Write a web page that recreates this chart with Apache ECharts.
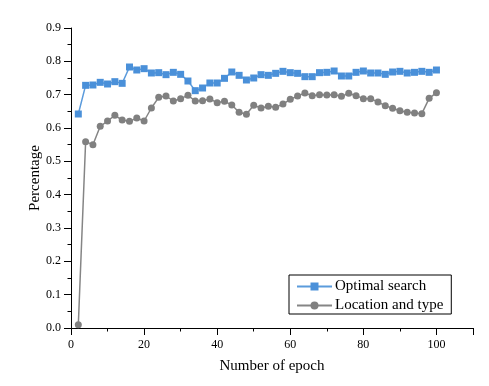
<!DOCTYPE html>
<html>
<head>
<meta charset="utf-8">
<script src="https://cdn.jsdelivr.net/npm/echarts@6/dist/echarts.min.js"></script>
<style>
  html, body { margin: 0; padding: 0; background: #fff; }
  #main { width: 489px; height: 386px; }
</style>
</head>
<body>
<div id="main"></div>
<script>
// epochs (every 2nd one)
var epochs = [2, 4, 6, 8, 10, 12, 14, 16, 18, 20, 22, 24, 26, 28, 30, 32, 34, 36, 38, 40,
  42, 44, 46, 48, 50, 52, 54, 56, 58, 60, 62, 64, 66, 68, 70, 72, 74, 76, 78, 80,
  82, 84, 86, 88, 90, 92, 94, 96, 98, 100];

var optimalSearch = [0.642, 0.728, 0.729, 0.737, 0.732, 0.739, 0.734, 0.783, 0.774, 0.778,
  0.765, 0.766, 0.760, 0.767, 0.761, 0.741, 0.712, 0.720, 0.735, 0.735,
  0.749, 0.768, 0.758, 0.744, 0.750, 0.760, 0.758, 0.764, 0.770, 0.766,
  0.764, 0.754, 0.754, 0.766, 0.767, 0.771, 0.756, 0.756, 0.767, 0.771,
  0.765, 0.765, 0.761, 0.768, 0.770, 0.765, 0.767, 0.770, 0.767, 0.774];

var locationAndType = [0.010, 0.559, 0.550, 0.605, 0.621, 0.638, 0.624, 0.620, 0.630, 0.621,
  0.660, 0.692, 0.696, 0.681, 0.688, 0.698, 0.681, 0.682, 0.687, 0.676,
  0.680, 0.669, 0.647, 0.641, 0.668, 0.660, 0.665, 0.662, 0.672, 0.686,
  0.696, 0.705, 0.697, 0.700, 0.699, 0.700, 0.695, 0.704, 0.697, 0.688,
  0.688, 0.678, 0.667, 0.659, 0.652, 0.647, 0.645, 0.643, 0.689, 0.706];

var seriesNames = ['Optimal search', 'Location and type'];

function pairs(xs, ys) {
  var out = [];
  for (var i = 0; i < xs.length; i++) out.push([xs[i], ys[i]]);
  return out;
}

var font = '"Liberation Serif", "Times New Roman", serif';
var chart = echarts.init(document.getElementById('main'));

var option = {
  backgroundColor: '#fff',
  animation: false,
  textStyle: { fontFamily: font },
  grid: { left: 71, right: 16, top: 28, bottom: 58 },
  legend: {
    orient: 'vertical',
    left: 289,
    top: 275,
    padding: [4, 8, 1, 7],
    itemGap: 4,
    itemWidth: 35,
    itemHeight: 10,
    borderColor: '#000',
    borderWidth: 1,
    borderRadius: 0,
    textStyle: { fontFamily: font, fontSize: 15, color: '#000', padding: [0, 0, 0, -2] },
    data: seriesNames
  },
  xAxis: {
    type: 'value',
    min: 0,
    max: 110,
    interval: 20,
    name: 'Number of epoch',
    nameLocation: 'middle',
    nameGap: 31,
    nameMoveOverlap: false,
    nameTextStyle: { fontFamily: font, fontSize: 15, color: '#000' },
    axisLine: { onZero: false, lineStyle: { color: '#000', width: 1 } },
    axisTick: { length: 7, lineStyle: { color: '#000' } },
    minorTick: { show: true, splitNumber: 2, length: 3.5, lineStyle: { color: '#000' } },
    axisLabel: {
      margin: 11, fontFamily: font, fontSize: 12, color: '#000',
      formatter: function (v) { return v > 100 ? '' : v; }
    },
    splitLine: { show: false }
  },
  yAxis: {
    type: 'value',
    min: 0,
    max: 0.9,
    interval: 0.1,
    name: 'Percentage',
    nameLocation: 'middle',
    nameGap: 28,
    nameMoveOverlap: false,
    nameTextStyle: { fontFamily: font, fontSize: 15, color: '#000' },
    axisLine: { show: true, lineStyle: { color: '#000', width: 1 } },
    axisTick: { show: true, length: 7, lineStyle: { color: '#000' } },
    minorTick: { show: true, splitNumber: 2, length: 3.5, lineStyle: { color: '#000' } },
    axisLabel: {
      margin: 10, fontFamily: font, fontSize: 12, color: '#000',
      formatter: function (v) { return v.toFixed(1); }
    },
    splitLine: { show: false }
  },
  series: [{
    name: seriesNames[0],
    type: 'line',
    data: pairs(epochs, optimalSearch),
    symbol: 'rect',
    symbolSize: 7,
    color: '#4a90d9',
    lineStyle: { width: 1.5, color: '#5b9bdc' },
    itemStyle: { color: '#4a90d9' }
  }, {
    name: seriesNames[1],
    type: 'line',
    data: pairs(epochs, locationAndType),
    symbol: 'circle',
    symbolSize: 7,
    color: '#808080',
    lineStyle: { width: 1.5, color: '#858585' },
    itemStyle: { color: '#808080' }
  }]
};

chart.setOption(option);
</script>
</body>
</html>
